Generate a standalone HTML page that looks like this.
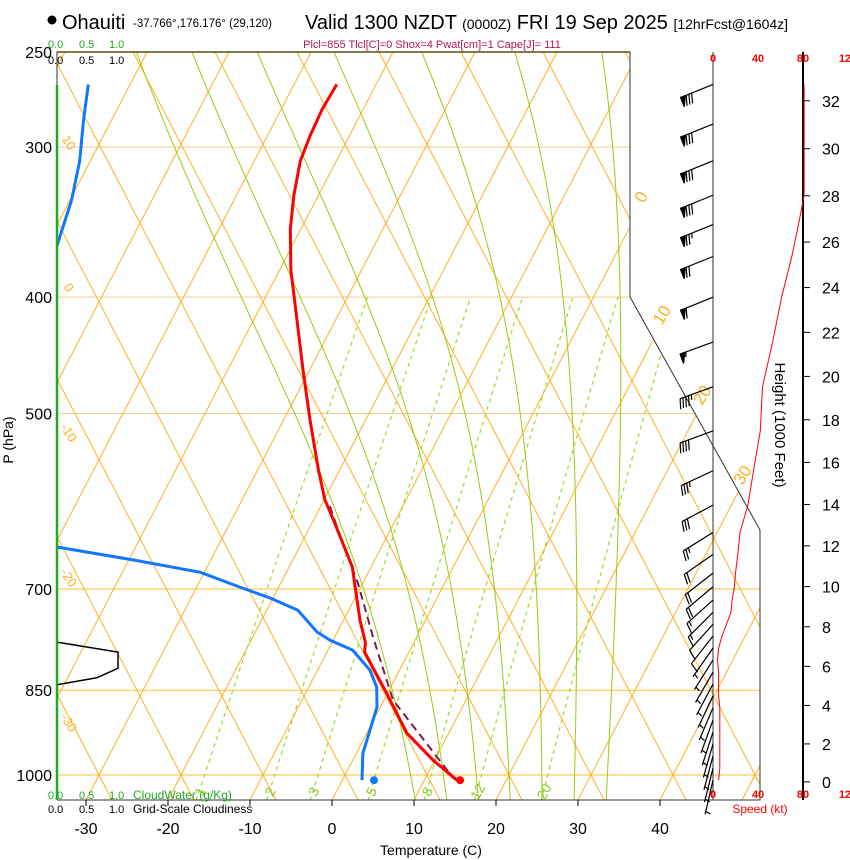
<!DOCTYPE html>
<html><head><meta charset="utf-8"><style>
html,body{margin:0;padding:0;background:#fff;}
svg{display:block;font-family:"Liberation Sans",Arial,sans-serif;}
</style></head><body>
<svg id="chart" width="850" height="860" viewBox="0 0 850 860" xmlns="http://www.w3.org/2000/svg">
<defs>
<clipPath id="plotclip"><polygon points="57,52 630,52 630,297 760,530 760,800 57,800"/></clipPath>
<clipPath id="leftclip"><rect x="57" y="52" width="703" height="748"/></clipPath>
</defs>
<g id="title">
<circle cx="52" cy="20" r="4.5" fill="#000"/>
<text x="62" y="29" font-size="20">Ohauiti</text>
<text x="133" y="27" font-size="11.5">-37.766°,176.176° (29,120)</text>
<text x="305" y="29" font-size="20">Valid 1300 NZDT <tspan font-size="14">(0000Z)</tspan> FRI 19 Sep 2025 <tspan font-size="14">[12hrFcst@1604z]</tspan></text>
</g>
<text x="432" y="48" font-size="11" fill="#b0175a" text-anchor="middle">Plcl=855 Tlcl[C]=0 Shox=4 Pwat[cm]=1 Cape[J]= 111</text>
<g id="grid" clip-path="url(#plotclip)"></g>
<g id="series" clip-path="url(#leftclip)"></g>
<g id="frame">
<polyline points="57,800 57,52 630,52 630,297 760,530 760,800 57,800" fill="none" stroke="#333" stroke-width="1"/>
<line x1="57" y1="52" x2="630" y2="52" stroke="#5a4a10" stroke-width="1.5"/>
<line x1="57" y1="85" x2="57" y2="800" stroke="#22aa22" stroke-width="2.5"/>
</g>
<g id="axes"></g>
<g id="wind"></g>
<text x="0" y="0" font-size="14" transform="translate(13,440) rotate(-90)" text-anchor="middle">P (hPa)</text>
<text x="431" y="855" font-size="14" text-anchor="middle">Temperature (C)</text>
<text x="0" y="0" font-size="15" transform="translate(775,425) rotate(90)" text-anchor="middle">Height (1000 Feet)</text>
<text x="760" y="813" font-size="12" fill="#ff0000" text-anchor="middle">Speed (kt)</text>
<g font-size="11">
<text x="48" y="48" fill="#22aa22">0.0</text><text x="79" y="48" fill="#22aa22">0.5</text><text x="109" y="48" fill="#22aa22">1.0</text>
<text x="48" y="64">0.0</text><text x="79" y="64">0.5</text><text x="109" y="64">1.0</text>
</g>
<g font-size="11">
<text x="48" y="799" fill="#22aa22">0.0</text><text x="79" y="799" fill="#22aa22">0.5</text><text x="109" y="799" fill="#22aa22">1.0</text>
<text x="133" y="799" fill="#22aa22" font-size="12">CloudWater (g/Kg)</text>
<text x="48" y="813">0.0</text><text x="79" y="813">0.5</text><text x="109" y="813">1.0</text>
<text x="133" y="813" font-size="12">Grid-Scale Cloudiness</text>
</g>
</svg>
<script>
// ---- data ----
const tempP = [1010,972,923,855,790,776,743,697,671,613,590,557,506,460,418,380,351,329,308,293,279,266];
const tempT = [14.0,9.8,4.9,-0.1,-5.4,-5.9,-8.0,-10.7,-12.3,-17.6,-19.9,-22.6,-26.8,-30.8,-34.7,-38.6,-41.3,-43.0,-44.4,-44.8,-45.0,-44.8];
const parcelP = [1010,1006,866,768,692,633,596];
const parcelT = [14.0,13.4,1.1,-5.3,-10.6,-15.7,-19.0];
const dewP = [1010,959,878,845,818,787,772,760,729,712,698,678,662,646];
const dewT = [2.4,0.8,-0.4,-1.7,-3.6,-7.0,-10.4,-12.5,-16.2,-20.4,-24.6,-30.5,-39.5,-49.5];
const dewUpperP = [266,285,308,332,362,380];
const dewUpperT = [-75.1,-73.4,-71.3,-69.8,-68.7,-68.5];
const cloudP = [775,790,815,830,841];
const cloudFrac = [0,1.0,1.0,0.65,0];
const windP = [266,287,308,329,348,370,400,436,475,517,558,596,628,655,679,697,715,732,749,766,784,802,821,840,859,879,900,921,942,964,987,1010];
const windSpd = [81,81,81,81,76,70,61,53,44,42,36,31,24,22,20,19,17,16,12,8,5,4,5,5,5,6,6,6,6,6,6,5];
const windDir = [248,248,248,248,248,248,248,250,250,250,245,242,238,235,232,230,228,225,222,218,215,212,210,208,205,203,200,198,196,195,194,193];
const pressureTicks = [250,300,400,500,700,850,1000];
const tempTicks = [-30,-20,-10,0,10,20,30,40];
const isoLabels = [0,10,20,30];
const leftLabels = [10,0,-10,-20,-30];
const mixRatios = [1,2,3,5,8,12,20];
const moistStart = [8,12,16,20,24,28,32];
const heightTicks = [0,2,4,6,8,10,12,14,16,18,20,22,24,26,28,30,32];
const speedTicks = [0,40,80,120];

// ---- axis functions ----
const NS="http://www.w3.org/2000/svg";
function yP(p){return 775+521.5*Math.log(p/1000);}
function xT(T,p){return 332+8.2*T+0.52*(800-yP(p));}
function xTy(T,y){return 332+8.2*T+0.52*(800-y);}
function mk(tag,attrs,parent){const e=document.createElementNS(NS,tag);for(const k in attrs)e.setAttribute(k,attrs[k]);parent.appendChild(e);return e;}
const grid=document.getElementById('grid'), series=document.getElementById('series'), axes=document.getElementById('axes'), wind=document.getElementById('wind');

pressureTicks.forEach(p=>{
  const y=yP(p); const strong=p>=700;
  const l=mk('line',{x1:57,y1:y,x2:760,y2:y,stroke:strong?'#ffc030':'#f3cf8a','stroke-width':1},grid);
  
  
  const t=mk('text',{x:52,y:y+6,'font-size':16,'text-anchor':'end'},axes);t.textContent=p;
  
  
});
for(let T=-120;T<=50;T+=10){
  const l=mk('line',{x1:xTy(T,800),y1:800,x2:xTy(T,52),y2:52,stroke:'#ffb020','stroke-width':1},grid);
  
  
}
for(let k=-12;k<=12;k++){
  const xc=99+82*k;
  const l=mk('line',{x1:xc+0.52*(800-775),y1:800,x2:xc+0.52*(52-775),y2:52,stroke:'#ffb020','stroke-width':1},grid);
  
  
}
function es(Tc){return 6.112*Math.exp(17.67*Tc/(Tc+243.5));}
function moistGrad(Tk,p){const Tc=Tk-273.15;const e=es(Tc);const rs=0.622*e/(p-e);const Rd=287,cp=1004,Lv=2.5e6;
  return (Rd*Tk+Lv*rs)/(p*(cp+Lv*Lv*rs*0.622/(Rd*Tk*Tk)));}
moistStart.forEach(T0=>{
  let pts=[];let T=T0+273.15,p=1000;
  let Td=T,pd=1000;const down=[];
  while(pd<1050){const g=moistGrad(Td,pd);Td+=g*5;pd+=5;down.push([pd,Td]);}
  down.reverse().forEach(a=>pts.push(xT(a[1]-273.15,a[0]).toFixed(1)+','+yP(a[0]).toFixed(1)));
  pts.push(xT(T0,1000).toFixed(1)+','+yP(1000).toFixed(1));
  while(p>245){const g=moistGrad(T,p);T-=g*5;p-=5;pts.push(xT(T-273.15,p).toFixed(1)+','+yP(p).toFixed(1));}
  const l=mk('polyline',{points:pts.join(' '),fill:'none',stroke:'#99cc11','stroke-width':1},grid);
  
  
});
mixRatios.forEach(w=>{
  const pts=[];
  for(let p=1050;p>=400;p-=10){const e=w*p/(622+w);const ln=Math.log(e/6.112);const Td=243.5*ln/(17.67-ln);pts.push(xT(Td,p).toFixed(1)+','+yP(p).toFixed(1));}
  const l=mk('polyline',{points:pts.join(' '),fill:'none',stroke:'#99dd22','stroke-width':1.2,'stroke-dasharray':'4,4'},grid);
  
  
  const p=1025;const e=w*p/(622+w);const ln=Math.log(e/6.112);const Td=243.5*ln/(17.67-ln);
  const x=xT(Td,p)+4, y=yP(p)+6;
  const t=mk('text',{x:x,y:y,'font-size':14,fill:'#88cc22','text-anchor':'middle',transform:`rotate(-62 ${x} ${y})`},axes);t.textContent=w;
  
  
});
isoLabels.forEach((T,i)=>{
  const y=[200,318,398,478][i];
  const x=xTy(T,y)+2;
  const t=mk('text',{x:x,y:y,'font-size':17,fill:'#ffb020','text-anchor':'middle',transform:`rotate(-58 ${x} ${y})`},axes);t.textContent=T;
  
  
});
leftLabels.forEach((v,i)=>{
  const y=145+145*i, x=65;
  const t=mk('text',{x:x,y:y,'font-size':13,fill:'#ffb020','text-anchor':'middle',transform:`rotate(58 ${x} ${y})`},axes);t.textContent=v;
  
  
});
tempTicks.forEach(T=>{
  const x=332+8.2*T;
  mk('line',{x1:x,y1:800,x2:x,y2:806,stroke:'#000'},axes);
  const t=mk('text',{x:x,y:834,'font-size':16,'text-anchor':'middle'},axes);t.textContent=T;
  
  
});
function line(P,T,attrs,name){
  const pts=P.map((p,i)=>xT(T[i],p).toFixed(1)+','+yP(p).toFixed(1)).join(' ');
  const l=mk('polyline',Object.assign({points:pts,fill:'none','stroke-linejoin':'round'},attrs),series);
  
  
}
line(parcelP,parcelT,{stroke:'#7a1a5a','stroke-width':2,'stroke-dasharray':'8,5'},'parcel-path');
line(tempP,tempT,{stroke:'#ff0000','stroke-width':3},'temperature-line');
line(dewP,dewT,{stroke:'#1177ff','stroke-width':3},'dewpoint-line');
line(dewUpperP,dewUpperT,{stroke:'#1177ff','stroke-width':3},'dewpoint-upper-line');
const cpts=cloudP.map((p,i)=>(57+61*cloudFrac[i]).toFixed(1)+','+yP(p).toFixed(1)).join(' ');
const cl=mk('polyline',{points:cpts,fill:'none',stroke:'#000','stroke-width':1.5},series);


const d1=mk('circle',{cx:xT(tempT[0],tempP[0])+3,cy:yP(tempP[0]),r:4,fill:'#ff0000'},series);


const d2=mk('circle',{cx:xT(dewT[0],dewP[0])+12,cy:yP(dewP[0]),r:4,fill:'#1177ff'},series);



function xS(s){return 713+s*1.125;}
mk('line',{x1:713,y1:52,x2:713,y2:800,stroke:'#333','stroke-width':1},wind);
mk('line',{x1:803,y1:52,x2:803,y2:800,stroke:'#000','stroke-width':2},wind);
speedTicks.forEach(s=>{
  [62,798].forEach(y=>{const t=mk('text',{x:xS(s),y:y,'font-size':11,'font-weight':'bold',fill:'#ff0000','text-anchor':'middle'},wind);t.textContent=s;
  
  });
});
const sp=windP.map((p,i)=>xS(windSpd[i]).toFixed(1)+','+yP(p).toFixed(1)).join(' ');
const sl=mk('polyline',{points:sp,fill:'none',stroke:'#ff0000','stroke-width':1},wind);


heightTicks.forEach(h=>{
  const m=h*304.8;const p=1013.25*Math.pow(1-2.2557e-5*m,5.2559);const y=yP(p);
  mk('line',{x1:803,y1:y,x2:810,y2:y,stroke:'#000'},wind);
  const t=mk('text',{x:822,y:y+6,'font-size':16},wind);t.textContent=h;
  
  
});
windP.forEach((p,i)=>{
  const y0=yP(p), spd=windSpd[i], dir=windDir[i]*Math.PI/180;
  const g=mk('g',{stroke:'#000','stroke-width':1.2,fill:'#000'},wind);
  
  
  const L=35;
  const dx=Math.sin(dir), dy=-Math.cos(dir);
  const ex=713+dx*L, ey=y0+dy*L;
  mk('line',{x1:713,y1:y0,x2:ex,y2:ey},g);
  const px=dy, py=-dx;
  let s=Math.round(spd/5)*5, pos=0;
  const fl=10;
  while(s>=50){const ax=ex-dx*pos, ay=ey-dy*pos, bx=ex-dx*(pos+5), by=ey-dy*(pos+5);
    mk('polygon',{points:`${ax},${ay} ${ax+px*fl},${ay+py*fl} ${bx},${by}`},g);pos+=6;s-=50;}
  while(s>=10){const ax=ex-dx*pos, ay=ey-dy*pos;mk('line',{x1:ax,y1:ay,x2:ax+px*fl+dx*3,y2:ay+py*fl+dy*3},g);pos+=3;s-=10;}
  if(s>=5){if(pos===0)pos=3;const ax=ex-dx*pos, ay=ey-dy*pos;mk('line',{x1:ax,y1:ay,x2:ax+px*fl/2+dx*1.5,y2:ay+py*fl/2+dy*1.5},g);}
});
</script>
</body></html>
